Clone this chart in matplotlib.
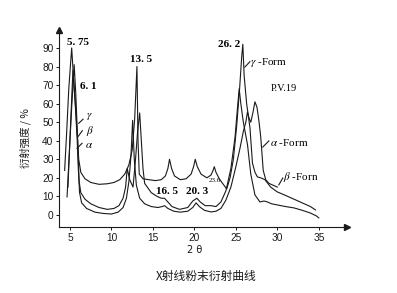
import matplotlib
matplotlib.use("Agg")
import matplotlib.pyplot as plt

plt.rcParams["mathtext.fontset"] = "stix"

# X-ray powder diffraction of P.V.19, three crystal forms
# (2theta, intensity %) points
gamma_x = [4.35, 4.6, 4.85, 5.2, 5.45, 5.7, 5.9, 6.05, 6.3, 6.8, 7.5, 8.5, 9.5, 10.3,
           11.0, 11.6, 12.1, 12.5, 12.8, 13.07, 13.2, 13.35, 13.8, 14.5, 15.3, 16.0,
           16.5, 16.8, 17.0, 17.25, 17.6, 18.3, 19.0, 19.6, 19.9, 20.1, 20.35, 20.8,
           21.5, 22.0, 22.25, 22.4, 22.6, 23.0, 23.4, 23.9, 24.3, 24.7, 25.1, 25.45,
           25.7, 25.84, 26.0, 26.3, 26.7, 27.0, 27.3, 27.6, 28.0, 28.5, 29.2, 30.0,
           31.0, 32.0, 33.0, 34.0, 34.6]
gamma_y = [24, 45, 68, 90, 72, 56, 42, 30, 23, 19.5, 17.5, 16.5, 16.8, 17.5,
           19, 22, 27, 35, 52, 80, 40, 22, 19.5, 19, 18.5, 19,
           21, 25, 30, 25, 21, 19, 19.5, 22, 26, 30, 26, 22,
           20, 21.5, 24, 26, 23, 19.5, 17, 14, 20, 30, 48, 68,
           85, 92, 75, 60, 47, 28, 23, 20.5, 20, 19, 15, 12.4,
           10.5, 8.5, 6.5, 4.5, 2.7]

beta_x = [4.64, 4.9, 5.2, 5.5, 5.7, 5.85, 6.0, 6.1, 6.3, 6.8, 7.5, 8.5, 9.5, 10.3,
          10.9, 11.4, 11.7, 11.9, 12.2, 12.6, 12.9, 13.15, 13.4, 13.6, 13.8, 14.0,
          14.8, 15.5, 16.0, 16.4, 16.8, 17.3, 18.2, 19.2, 19.8, 20.3, 20.7, 21.3,
          22.0, 22.6, 23.2, 23.8, 24.4, 24.9, 25.2, 25.4, 25.6, 25.9, 26.4, 26.8,
          27.3, 27.9, 28.4, 28.8, 29.3, 30.0, 31.0, 32.0, 33.0, 34.0, 34.7, 35.0]
beta_y = [9.7, 32, 58, 81, 65, 48, 30, 18, 12, 8.5, 6, 4, 3, 3.5,
          5, 9, 15, 25, 19, 15, 30, 45, 55, 40, 25, 17,
          12, 10, 9, 9, 7, 4.5, 3, 4, 7.5, 9, 7, 5,
          5, 4.5, 7, 13, 25, 42, 58, 68, 60, 50, 38, 22,
          10.8, 7, 7.5, 7, 6, 5.4, 4.5, 3.8, 2.5, 1, -0.5, -1.6]

alpha_x = [4.75, 5.0, 5.35, 5.6, 5.85, 6.0, 6.15, 6.4, 7.0, 8.0, 9.0, 10.0, 10.8,
           11.4, 11.8, 12.1, 12.35, 12.55, 12.75, 13.0, 13.4, 14.0, 14.8, 15.6,
           16.1, 16.4, 16.8, 17.5, 18.3, 19.2, 19.8, 20.2, 20.6, 21.2, 22.0, 22.6,
           23.2, 23.8, 24.4, 25.0, 25.5, 25.9, 26.2, 26.4, 26.6, 26.8, 27.05, 27.3,
           27.55, 27.8, 28.0, 28.15, 28.3, 28.6, 29.0, 29.5, 30.0]
alpha_y = [15, 42, 78, 62, 42, 25, 12, 6.5, 3.5, 1.5, 0.8, 0.5, 1.5,
           4, 9, 18, 32, 51, 30, 16, 9, 6, 4.5, 4,
           4.5, 5, 3.5, 2, 1.5, 2, 4, 6.5, 4.5, 2.5, 1.6, 2,
           3.5, 8, 15, 26, 36, 45, 50, 55.5, 52, 50, 55, 61,
           58, 50, 42, 33, 24, 19, 17, 16, 15]

x_ticks = [5, 10, 15, 20, 25, 30, 35]
y_ticks = [0, 10, 20, 30, 40, 50, 60, 70, 80, 90]

# peak labels: text, 2theta, intensity
peak_labels = [("5. 75", 5.96, 92.7), ("6. 1", 7.17, 69.5), ("13. 5", 13.61, 84.0),
               ("26. 2", 24.16, 92.1), ("16. 5", 16.75, 12.4), ("20. 3", 20.36, 12.4)]

line_kw = dict(color="#1a1a1a", linewidth=0.8)
serif = "Liberation Serif"
cjk = ["Noto Sans CJK SC", "DejaVu Sans"]

fig = plt.figure(figsize=(3.97, 2.93), dpi=100)
ax = fig.add_axes([0.1486, 0.2253, 0.7254, 0.6723])

ax.plot(gamma_x, gamma_y, **line_kw)
ax.plot(beta_x, beta_y, **line_kw)
ax.plot(alpha_x, alpha_y, **line_kw)

ax.set_xlim(3.67, 38.4)
ax.set_ylim(-6.5, 99.7)
ax.set_xticks(x_ticks)
ax.set_yticks(y_ticks)
for s in ["top", "right"]:
    ax.spines[s].set_visible(False)
for s in ["left", "bottom"]:
    ax.spines[s].set_linewidth(0.8)
    ax.spines[s].set_color("#1a1a1a")
ax.tick_params(direction="out", length=2.5, width=0.7, pad=1.5,
               labelsize=7.3, colors="#1a1a1a")
for lab in ax.get_xticklabels() + ax.get_yticklabels():
    lab.set_family("Liberation Sans")

# axis arrows
ax.plot(1, 0, marker=">", color="#1a1a1a", markersize=5, transform=ax.transAxes, clip_on=False)
ax.plot(0, 1, marker="^", color="#1a1a1a", markersize=5, transform=ax.transAxes, clip_on=False)

for txt, px, py in peak_labels:
    ax.text(px, py, txt, fontsize=8, fontweight="bold", family=serif,
            ha="center", va="center")
ax.text(22.47, 18.3, "23.6", fontsize=5, family=serif, ha="center", va="center")

# form labels with their short leader lines
ax.text(26.75, 82.4, "$\\gamma$ -Form", fontsize=8, family=serif, ha="left", va="center")
ax.plot([26.08, 26.69], [79.7, 82.6], **line_kw)
ax.text(29.2, 67.9, "P.V.19", fontsize=7.5, family=serif, ha="left", va="center")
ax.text(29.1, 39.3, "$\\alpha$ -Form", fontsize=8, family=serif, ha="left", va="center")
ax.plot([28.25, 28.98], [36.6, 39.9], **line_kw)
ax.text(30.7, 20.5, "$\\beta$ -Forn", fontsize=8, family=serif, ha="left", va="center")
ax.plot([30.18, 30.66], [16.2, 19.9], **line_kw)

ax.text(7.29, 53.0, "$\\gamma$", fontsize=8, ha="center", va="center")
ax.plot([6.05, 6.57], [49.4, 51.6], **line_kw)
ax.text(7.41, 45.3, "$\\beta$", fontsize=8, ha="center", va="center")
ax.plot([5.96, 6.48], [42.2, 45.4], **line_kw)
ax.text(7.29, 37.6, "$\\alpha$", fontsize=8, ha="center", va="center")
ax.plot([5.84, 6.45], [35.9, 38.6], **line_kw)

fig.text(0.063, 0.529, "衍射强度 / %", rotation=90, fontsize=7.5, family=cjk,
         ha="center", va="center", color="#1a1a1a")
fig.text(0.491, 0.147, "2 θ", fontsize=7, family="DejaVu Sans",
         ha="center", va="center", color="#1a1a1a")
fig.text(0.519, 0.055, "X射线粉末衍射曲线", fontsize=8.5, family=cjk,
         ha="center", va="center", color="#1a1a1a")

fig.savefig("out.png", dpi=100, facecolor="white")
